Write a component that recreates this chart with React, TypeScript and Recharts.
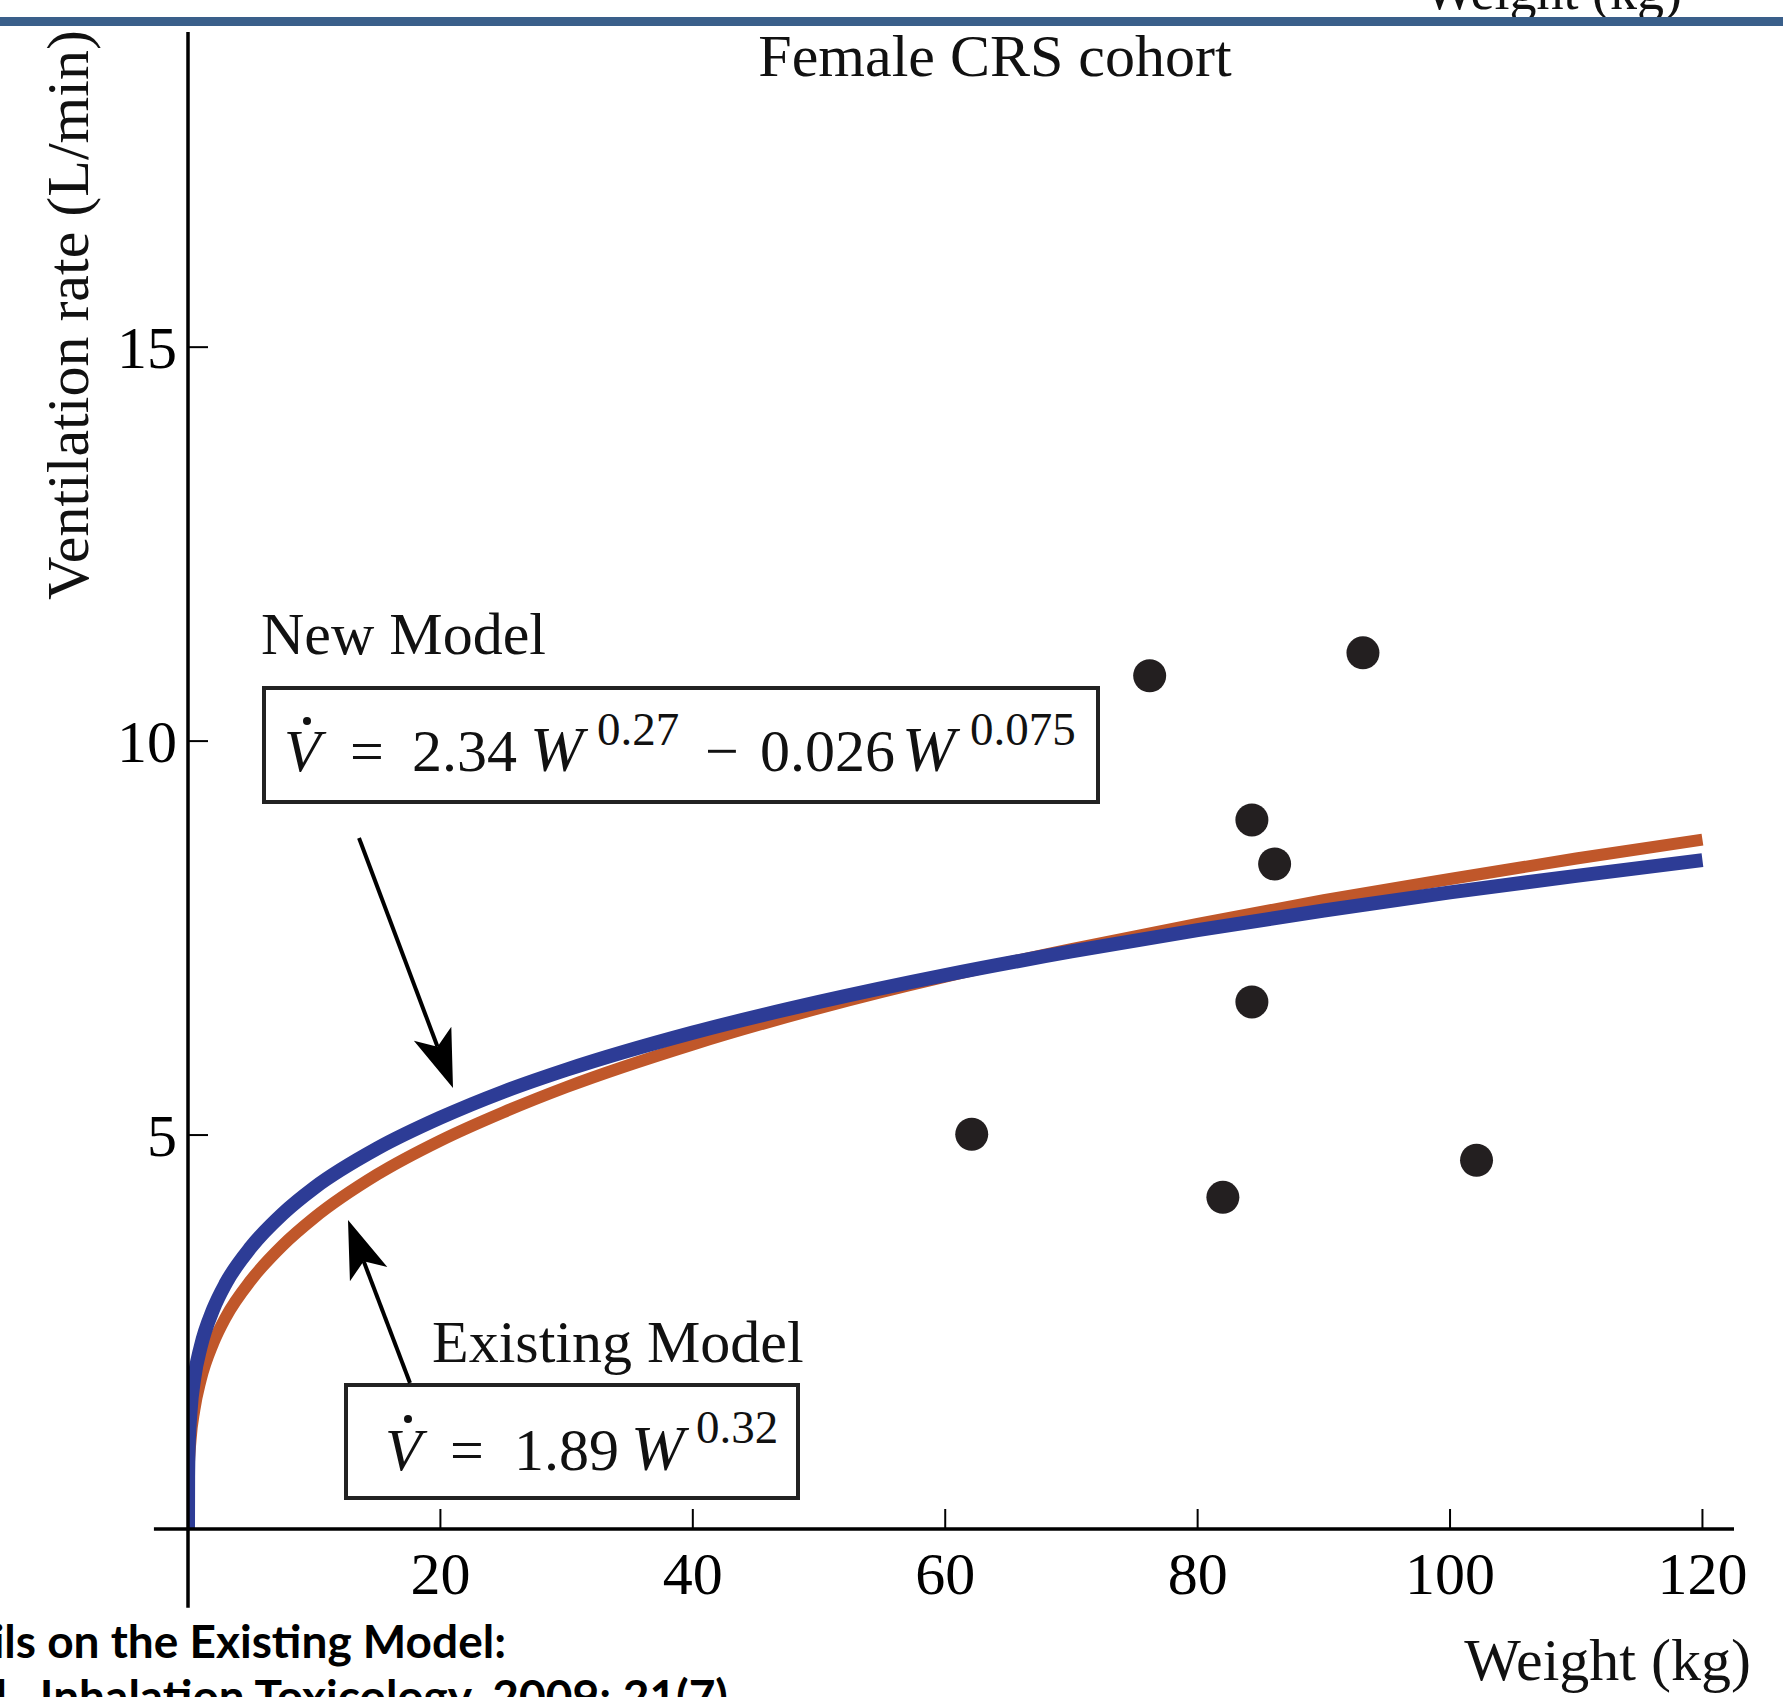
import React from "react";
import {
  ComposedChart,
  Line,
  Scatter,
  XAxis,
  YAxis,
  ReferenceLine,
} from "recharts";

// ---- data ----
const weights = [0, 0.01, 0.05, 0.2, 0.5, 1, 2, 3, 5, 7.5, 10, 15, 20, 25, 30, 40, 50, 60, 70, 80, 90, 100, 110, 120];
const existingModel = [0, 0.43, 0.73, 1.13, 1.51, 1.89, 2.36, 2.69, 3.16, 3.6, 3.95, 4.5, 4.93, 5.29, 5.61, 6.15, 6.61, 7.01, 7.36, 7.68, 7.98, 8.25, 8.51, 8.75];
const newModel = [0, 0.66, 1.02, 1.49, 1.92, 2.31, 2.79, 3.12, 3.58, 4.0, 4.33, 4.83, 5.22, 5.55, 5.83, 6.3, 6.69, 7.03, 7.33, 7.6, 7.85, 8.08, 8.29, 8.49];

const cohortWeight = [76.2, 93.1, 84.3, 86.1, 84.3, 62.1, 82.0, 102.1];
const cohortVent = [10.83, 11.12, 9.0, 8.44, 6.69, 5.01, 4.21, 4.68];

const xTicks = [20, 40, 60, 80, 100, 120];
const yTicks = [5, 10, 15];

const curveRows = weights.map((w, i) => ({ w, existing: existingModel[i], newM: newModel[i] }));
const pointRows = cohortWeight.map((w, i) => ({ w, v: cohortVent[i] }));

const W = 1783;
const H = 1697;
const SERIF = "'Liberation Serif', 'Times New Roman', 'DejaVu Serif', serif";

function arrowPath(tail: [number, number], tip: [number, number]) {
  const dx = tip[0] - tail[0];
  const dy = tip[1] - tail[1];
  const len = Math.hypot(dx, dy);
  const ux = dx / len, uy = dy / len;
  const nx = -uy, ny = ux;
  const back = 58, half = 20, notch = 44;
  const L = [tip[0] - back * ux + half * nx, tip[1] - back * uy + half * ny];
  const R = [tip[0] - back * ux - half * nx, tip[1] - back * uy - half * ny];
  const N = [tip[0] - notch * ux, tip[1] - notch * uy];
  return {
    line: `M${tail[0]},${tail[1]} L${N[0]},${N[1]}`,
    head: `M${tip[0]},${tip[1]} L${L[0]},${L[1]} L${N[0]},${N[1]} L${R[0]},${R[1]} Z`,
  };
}

const Dot = (props: any) => {
  const { cx, cy } = props;
  if (cx == null || cy == null) return null;
  return <circle cx={cx} cy={cy} r={16.5} fill="#231f20" />;
};

export default function App() {
  const a1 = arrowPath([359, 838], [453, 1088]);
  const a2 = arrowPath([410, 1383], [348, 1220]);
  return (
    <div style={{ position: "absolute", left: 0, top: 0, width: W, height: H, background: "#fff", overflow: "hidden" }}>
      <div style={{ position: "absolute", left: 0, top: 0 }}>
        <ComposedChart
          width={W}
          height={H}
          data={curveRows}
          margin={{ top: 32, right: 49, bottom: 68, left: 88 }}
        >
          <XAxis
            dataKey="w"
            type="number"
            domain={[0, 122.5]}
            ticks={xTicks}
            height={100}
            axisLine={false}
            tickSize={-20}
            tickMargin={42}
            tickLine={{ stroke: "#000", strokeWidth: 2 }}
            tick={{ fill: "#000", fontSize: 60, fontFamily: SERIF }}
            allowDataOverflow
          />
          <YAxis
            type="number"
            domain={[0, 19]}
            ticks={yTicks}
            width={100}
            axisLine={false}
            tickSize={-20}
            tickMargin={31}
            tickLine={{ stroke: "#000", strokeWidth: 2 }}
            tick={{ fill: "#000", fontSize: 60, fontFamily: SERIF }}
            allowDataOverflow
          />
          <Line
            dataKey="existing"
            type="monotone"
            stroke="#c0572a"
            strokeWidth={12}
            dot={false}
            activeDot={false}
            isAnimationActive={false}
          />
          <Line
            dataKey="newM"
            type="monotone"
            stroke="#2d3c96"
            strokeWidth={14}
            dot={false}
            activeDot={false}
            isAnimationActive={false}
          />
          <Scatter data={pointRows} dataKey="v" shape={Dot} isAnimationActive={false} />
          <ReferenceLine
            segment={[{ x: 0, y: -1 }, { x: 0, y: 19 }]}
            stroke="#000"
            strokeWidth={3.5}
            ifOverflow="visible"
          />
          <ReferenceLine
            segment={[{ x: -2.7, y: 0 }, { x: 122.5, y: 0 }]}
            stroke="#000"
            strokeWidth={3.5}
            ifOverflow="visible"
          />
        </ComposedChart>
      </div>
      <svg
        width={W}
        height={H}
        style={{ position: "absolute", left: 0, top: 0, pointerEvents: "none" }}
      >
        {/* slide remnants */}
        <text x={1682} y={9} textAnchor="end" fontFamily={SERIF} fontSize={54} fill="#111">Weight (kg)</text>
        <rect x={0} y={17} width={W} height={9} fill="#3a5f8a" />
        <text x={506} y={1658} textAnchor="end" fontFamily="Lato, 'Open Sans', sans-serif" fontWeight={700} fontSize={46} fill="#000">Details on the Existing Model:</text>
        <text x={728} y={1713} textAnchor="end" fontFamily="Lato, 'Open Sans', sans-serif" fontWeight={700} fontSize={46} fill="#000">et al., Inhalation Toxicology, 2009; 21(7)</text>

        {/* title and axis labels */}
        <text x={995} y={76} textAnchor="middle" fontFamily={SERIF} fontSize={60} fill="#111">Female CRS cohort</text>
        <text x={1751} y={1680} textAnchor="end" fontFamily={SERIF} fontSize={60} fill="#111">Weight (kg)</text>
        <text x={88} y={315} transform="rotate(-90 88 315)" textAnchor="middle" fontFamily={SERIF} fontSize={60} fill="#111">Ventilation rate (L/min)</text>

        {/* New model annotation */}
        <text x={261} y={654} fontFamily={SERIF} fontSize={60} fill="#111">New Model</text>
        <rect x={264} y={688} width={834} height={114} fill="none" stroke="#222" strokeWidth={4} />
        <circle cx={307} cy={721} r={4} fill="#111" />
        <text y={771} fontFamily={SERIF} fontSize={60} fill="#111">
          <tspan x={284} fontStyle="italic">V</tspan>
          <tspan x={350}>=</tspan>
          <tspan x={412}>2.34</tspan>
          <tspan x={530} fontStyle="italic" fontSize={64}>W</tspan>
          <tspan x={597} y={745} fontSize={47}>0.27</tspan>
          <tspan x={705} y={771}>−</tspan>
          <tspan x={760}>0.026</tspan>
          <tspan x={902} fontStyle="italic" fontSize={64}>W</tspan>
          <tspan x={970} y={745} fontSize={47}>0.075</tspan>
        </text>
        <path d={a1.line} stroke="#000" strokeWidth={4} fill="none" />
        <path d={a1.head} fill="#000" />

        {/* Existing model annotation */}
        <text x={432} y={1362} fontFamily={SERIF} fontSize={60} fill="#111">Existing Model</text>
        <rect x={346} y={1385} width={452} height={113} fill="none" stroke="#222" strokeWidth={4} />
        <circle cx={408} cy={1419} r={4} fill="#111" />
        <text y={1470} fontFamily={SERIF} fontSize={60} fill="#111">
          <tspan x={385} fontStyle="italic">V</tspan>
          <tspan x={450}>=</tspan>
          <tspan x={514}>1.89</tspan>
          <tspan x={631} fontStyle="italic" fontSize={64}>W</tspan>
          <tspan x={696} y={1443} fontSize={47}>0.32</tspan>
        </text>
        <path d={a2.line} stroke="#000" strokeWidth={4} fill="none" />
        <path d={a2.head} fill="#000" />
      </svg>
    </div>
  );
}
